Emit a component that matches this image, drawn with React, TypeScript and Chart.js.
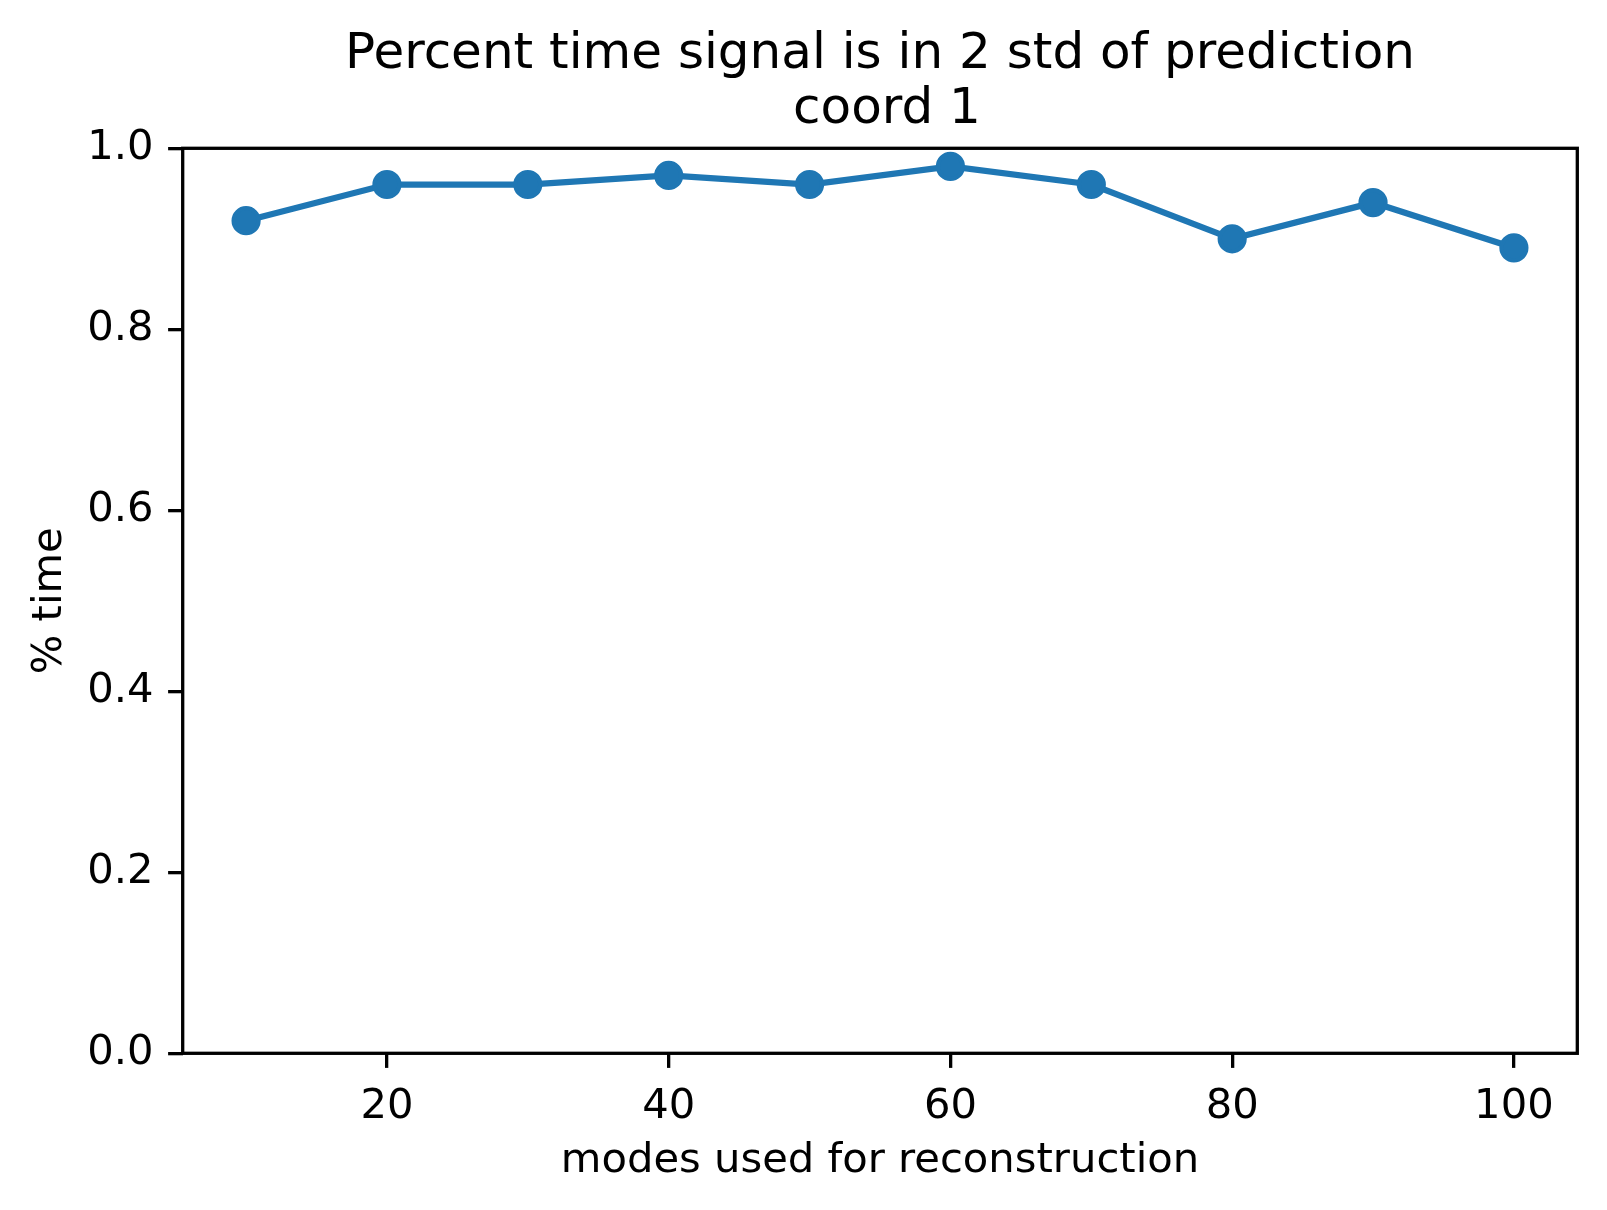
import React, { useEffect, useRef } from "react";
import { Chart, registerables } from "chart.js";

Chart.register(...registerables);

const MODES = [10, 20, 30, 40, 50, 60, 70, 80, 90, 100];
const PERCENT_TIME = [0.92, 0.96, 0.96, 0.97, 0.96, 0.98, 0.96, 0.9, 0.94, 0.89];
const X_TICKS = [20, 40, 60, 80, 100];
const Y_TICKS = [0, 0.2, 0.4, 0.6, 0.8, 1.0];
const TITLE_LINES = ["Percent time signal is in 2 std of prediction", "coord 1"];
const X_LABEL = "modes used for reconstruction";
const Y_LABEL = "% time";

const W = 1607;
const H = 1210;
const FONT = "'DejaVu Sans', sans-serif";

export default function App() {
  const ref = useRef<HTMLCanvasElement | null>(null);

  useEffect(() => {
    const canvas = ref.current;
    if (!canvas) return;

    const textPlugin = {
      id: "mplText",
      afterDraw(chart: any) {
        const { ctx, chartArea } = chart;
        const cx = (chartArea.left + chartArea.right) / 2;
        const cy = (chartArea.top + chartArea.bottom) / 2;
        ctx.save();
        // spines
        ctx.strokeStyle = "#000";
        ctx.lineWidth = 3.3;
        ctx.lineJoin = "miter";
        ctx.strokeRect(
          chartArea.left,
          chartArea.top,
          chartArea.right - chartArea.left,
          chartArea.bottom - chartArea.top
        );
        ctx.fillStyle = "#000";
        ctx.textAlign = "center";
        ctx.textBaseline = "alphabetic";
        ctx.font = `50px ${FONT}`;
        ctx.fillText(TITLE_LINES[0], cx, 67.7);
        ctx.fillText(TITLE_LINES[1], cx + 7, 123.3);
        ctx.font = `41.7px ${FONT}`;
        ctx.fillText(X_LABEL, cx, 1171.7);
        ctx.translate(61, cy);
        ctx.rotate(-Math.PI / 2);
        ctx.fillText(Y_LABEL, 0, 0);
        ctx.restore();
      },
    };

    const chart = new Chart(canvas, {
      type: "line",
      data: {
        datasets: [
          {
            data: MODES.map((m, i) => ({ x: m, y: PERCENT_TIME[i] })),
            borderColor: "#1f77b4",
            backgroundColor: "#1f77b4",
            borderWidth: 6.25,
            pointRadius: 12.5,
            pointBorderWidth: 4.2,
            pointBorderColor: "#1f77b4",
            pointBackgroundColor: "#1f77b4",
            tension: 0,
            fill: false,
          },
        ],
      },
      options: {
        responsive: false,
        animation: false,
        devicePixelRatio: 1,
        layout: {
          padding: {
            left: 182.7 - 100,
            right: W - 1577.3,
            top: 148.3,
            bottom: H - 1053.3 - 100,
          },
        },
        plugins: {
          legend: { display: false },
          title: { display: false },
          tooltip: { enabled: false },
        },
        scales: {
          x: {
            type: "linear",
            min: 5.5,
            max: 104.5,
            afterFit: (s: any) => {
              s.height = 100;
            },
            afterBuildTicks: (s: any) => {
              s.ticks = X_TICKS.map((v) => ({ value: v }));
            },
            grid: {
              display: true,
              drawOnChartArea: false,
              drawTicks: true,
              tickLength: 14.6,
              lineWidth: 3.3,
              color: "#000",
              tickColor: "#000",
            },
            border: { display: false },
            ticks: {
              color: "#000",
              padding: 14.6,
              maxRotation: 0,
              autoSkip: false,
              font: { family: FONT, size: 41.7 },
              callback: (v: any) => String(v),
            },
          },
          y: {
            type: "linear",
            min: 0,
            max: 1,
            afterFit: (s: any) => {
              s.width = 100;
            },
            afterBuildTicks: (s: any) => {
              s.ticks = Y_TICKS.map((v) => ({ value: v }));
            },
            grid: {
              display: true,
              drawOnChartArea: false,
              drawTicks: true,
              tickLength: 14.6,
              lineWidth: 3.3,
              color: "#000",
              tickColor: "#000",
            },
            border: { display: false },
            ticks: {
              color: "#000",
              padding: 14.6,
              autoSkip: false,
              font: { family: FONT, size: 41.7 },
              callback: (v: any) => Number(v).toFixed(1),
            },
          },
        },
      },
      plugins: [textPlugin],
    });

    return () => chart.destroy();
  }, []);

  return (
    <div style={{ position: "absolute", left: 0, top: 0, width: W, height: H, background: "#fff" }}>
      <canvas ref={ref} width={W} height={H} style={{ display: "block", width: W, height: H }} />
    </div>
  );
}
